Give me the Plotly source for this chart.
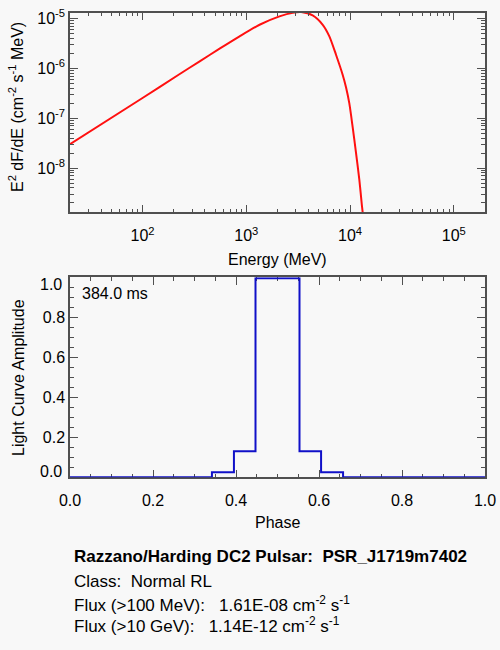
import plotly.graph_objects as go
import math

# ---- data: spectrum ----
energy_mev = [20, 100, 228.6, 355.6, 553, 862, 1343, 2089, 2805, 3381, 4365, 5458,
              6324, 7328, 8492, 9162, 9840, 10590, 11430, 12300, 12940, 13210, 13650]
e2dfde = [3.02e-8, 2.54e-7, 7.69e-7, 1.38e-6, 2.47e-6, 4.37e-6, 7.45e-6, 1.096e-5,
          1.294e-5, 1.336e-5, 1.148e-5, 7.45e-6, 4.37e-6, 1.87e-6, 7.45e-7, 4.13e-7,
          2.0e-7, 6.79e-8, 2.0e-8, 5.83e-9, 2.0e-9, 1.36e-9, 6.0e-10]

# ---- data: light curve (step edges & amplitudes) ----
phase_edges = [0.0, 0.342, 0.395, 0.447, 0.553, 0.605, 0.658, 1.0]
amplitude = [0.0, 0.025, 0.13, 0.995, 0.13, 0.025, 0.0, 0.0]

x_ticks_energy = [1e2, 1e3, 1e4, 1e5]
x_ticktext_energy = ["10<sup>2</sup>", "10<sup>3</sup>", "10<sup>4</sup>", "10<sup>5</sup>"]
y_ticks_flux = [1e-8, 1e-7, 1e-6, 1e-5]
y_ticktext_flux = ["10<sup>-8</sup>", "10<sup>-7</sup>", "10<sup>-6</sup>", "10<sup>-5</sup>"]
phase_ticks = [0.0, 0.2, 0.4, 0.6, 0.8, 1.0]
phase_ticktext = ["0.0", "0.2", "0.4", "0.6", "0.8", "1.0"]
amp_ticks = [0.0, 0.2, 0.4, 0.6, 0.8, 1.0]
amp_ticktext = ["", "0.2", "0.4", "0.6", "0.8", ""]

title_line = "<b>Razzano/Harding DC2 Pulsar:\u00a0\u00a0PSR_J1719m7402</b>"
class_line = "Class:\u00a0\u00a0Normal RL"
flux_lines = ["Flux (>100 MeV):\u00a0\u00a0\u00a01.61E-08 cm<sup>-2</sup> s<sup>-1</sup>",
              "Flux (>10 GeV):\u00a0\u00a0\u00a01.14E-12 cm<sup>-2</sup> s<sup>-1</sup>"]
period_label = "384.0 ms"

W, H = 500, 650
FONT = "Liberation Sans, Arial, Helvetica, sans-serif"
AX = "#505050"
BG = "#f8f8f8"

def px(x):
    return x / W

def py(y):
    return 1 - y / H

fig = go.Figure()
fig.add_trace(go.Scatter(x=energy_mev, y=e2dfde, mode="lines",
                         line=dict(color="#ff1010", width=2, shape="spline", smoothing=0.7),
                         xaxis="x", yaxis="y", showlegend=False))
fig.add_trace(go.Scatter(x=phase_edges, y=amplitude, mode="lines",
                         line=dict(color="#1010c8", width=2, shape="hv"),
                         xaxis="x2", yaxis="y2", showlegend=False, cliponaxis=False))

# minor tick positions on log axes
minor_e = [m * 10 ** d for d in range(1, 6) for m in range(2, 10) if 20 <= m * 10 ** d <= 2e5]
minor_f = [m * 10 ** d for d in range(-10, -4) for m in range(2, 10) if 1.3e-9 <= m * 10 ** d <= 1.3e-5]

common = dict(showline=True, linecolor=AX, linewidth=1.5, mirror="ticks", ticks="inside",
              tickcolor=AX, tickwidth=1, showgrid=False, zeroline=False, automargin=False,
              tickfont=dict(family=FONT, size=16, color="black"))

fig.update_layout(
    width=W, height=H, margin=dict(l=0, r=0, t=0, b=0, pad=0, autoexpand=False),
    paper_bgcolor=BG, plot_bgcolor=BG,
    font=dict(family=FONT, size=16, color="black"),
    xaxis=dict(domain=[px(70), px(485)], anchor="y", type="log",
               range=[math.log10(20), math.log10(2e5)],
               tickmode="array", tickvals=x_ticks_energy, ticktext=x_ticktext_energy,
               ticklen=8, ticklabelstandoff=8,
               minor=dict(tickmode="array", tickvals=minor_e, ticklen=4, ticks="inside",
                          tickcolor=AX), **common),
    yaxis=dict(domain=[py(212.3), py(12.7)], anchor="x", type="log",
               range=[math.log10(1.3e-9), math.log10(1.3e-5)],
               tickmode="array", tickvals=y_ticks_flux, ticktext=y_ticktext_flux,
               ticklen=8,
               minor=dict(tickmode="array", tickvals=minor_f, ticklen=4, ticks="inside",
                          tickcolor=AX), **common),
    xaxis2=dict(domain=[px(70), px(485)], anchor="y2", range=[0, 1],
                tickmode="array", tickvals=phase_ticks, ticktext=phase_ticktext,
                ticklen=8, layer="below traces", ticklabelstandoff=8,
                minor=dict(dtick=0.05, ticklen=4, ticks="inside", tickcolor=AX), **common),
    yaxis2=dict(domain=[py(477.3), py(277.3)], anchor="x2", range=[0, 1],
                tickmode="array", tickvals=amp_ticks, ticktext=amp_ticktext,
                ticklen=8, layer="below traces",
                minor=dict(dtick=0.05, ticklen=4, ticks="inside", tickcolor=AX), **common),
)

ann = []
def text(t, x, y, xanchor="center", yanchor="middle", angle=0, size=16):
    ann.append(dict(text=t, x=px(x), y=py(y), xref="paper", yref="paper",
                    xanchor=xanchor, yanchor=yanchor, textangle=angle, showarrow=False,
                    font=dict(family=FONT, size=size, color="black")))

text("E<sup>2</sup> dF/dE (cm<sup>-2</sup> s<sup>-1</sup> MeV)", 16, 107, angle=-90)
text("Energy (MeV)", 277.5, 259)
text("Light Curve Amplitude", 18, 378, angle=-90)
text("Phase", 277.5, 522)
text(period_label, 80, 293.3, xanchor="left")
text("1.0", 64, 284, xanchor="right")
text("0.0", 64, 471, xanchor="right")
text(title_line, 71.7, 556, xanchor="left", size=17)
text(class_line, 71.7, 581.5, xanchor="left", size=17)
text(flux_lines[0], 71.7, 604, xanchor="left", size=17)
text(flux_lines[1], 71.7, 625, xanchor="left", size=17)
fig.update_layout(annotations=ann)

fig.write_html("out.html", config={"displayModeBar": False},
               post_script="document.body.style.margin='0';document.body.style.overflow='hidden';")
